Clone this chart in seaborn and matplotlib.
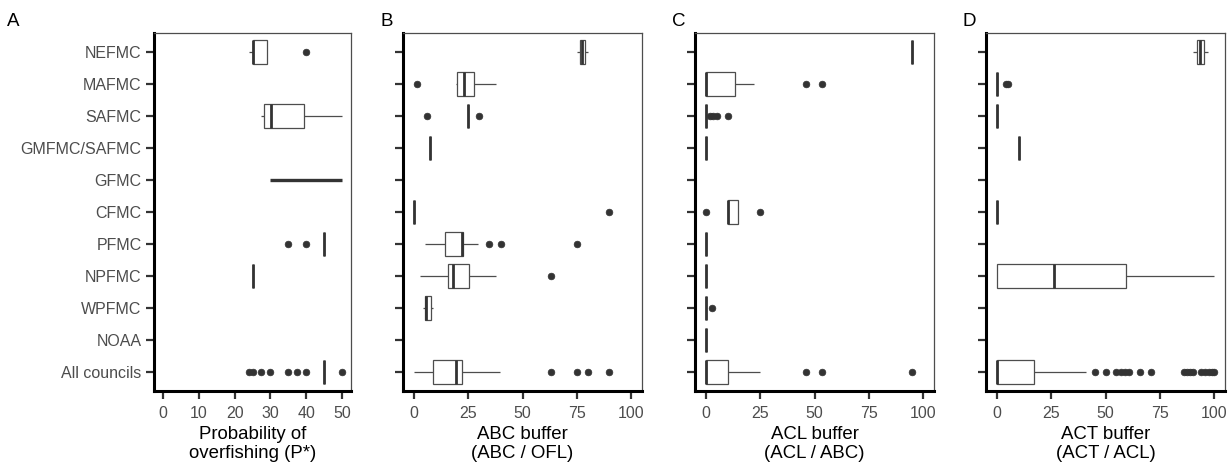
import matplotlib
matplotlib.use("Agg")
import matplotlib.pyplot as plt
import pandas as pd
import seaborn as sns

# Councils, top to bottom
councils = ["NEFMC", "MAFMC", "SAFMC", "GMFMC/SAFMC", "GFMC", "CFMC",
            "PFMC", "NPFMC", "WPFMC", "NOAA", "All councils"]

# Probability of overfishing, P* (%)
pstar = {
    "NEFMC": [24, 25, 25, 29, 40],
    "SAFMC": [27.5, 28.25, 30.25, 39.5, 50],
    "PFMC": [35, 40, 45, 45, 45, 45, 45, 45, 45],
    "NPFMC": [25, 25, 25],
    "All councils": [24, 25, 27.5, 30, 35, 37.5, 40] + [45] * 21 + [50],
}
# GFMC reports P* as a range rather than single values
pstar_gfmc_range = [30, 50]

# ABC buffer (ABC / OFL), %
abc_buffer = {
    "NEFMC": [75.3, 76.3, 77.4, 78.8, 80],
    "MAFMC": [1.4, 19.2, 19.8, 21, 22.9, 25, 27.6, 30, 37.7],
    "SAFMC": [6, 25, 25, 25, 25, 25, 25, 25, 30],
    "GMFMC/SAFMC": [7.3, 7.3],
    "CFMC": [0, 0, 0, 0, 0, 90],
    "PFMC": [5, 8, 11, 13, 14.4, 16, 18, 20, 22.1, 22.2, 22.2, 22.3, 22.4,
             29.3, 34.6, 40, 75],
    "NPFMC": [3, 10, 15.9, 17, 18, 20, 25.2, 37.6, 63],
    "WPFMC": [4, 5, 5.6, 7.9, 8.9],
    "All councils": [0, 2, 4, 6, 8, 9, 12, 15, 17, 18.5, 19.2, 20, 21, 21.5,
                     22, 22.1, 39.7, 63, 75, 80, 90],
}

# ACL buffer (ACL / ABC), %
acl_buffer = {
    "NEFMC": [95, 95, 95],
    "MAFMC": [0, 0, 0, 0, 0, 0, 0, 3, 8, 13.3, 22, 46, 53.6],
    "SAFMC": [0] * 14 + [2, 3.5, 5, 10],
    "GMFMC/SAFMC": [0, 0],
    "CFMC": [0, 10, 10, 10, 10, 15, 15, 15, 25],
    "PFMC": [0, 0, 0],
    "NPFMC": [0, 0, 0],
    "WPFMC": [0, 0, 0, 0, 3],
    "NOAA": [0, 0],
    "All councils": [0] * 9 + [2, 5, 8, 10, 24.8, 46, 53.6, 95],
}

# ACT buffer (ACT / ACL), %
act_buffer = {
    "NEFMC": [90.3, 92, 93.5, 95.5, 97.2],
    "MAFMC": [0, 0, 0, 0, 0, 0, 0, 0, 4, 5],
    "SAFMC": [0, 0, 0],
    "GMFMC/SAFMC": [10, 10],
    "CFMC": [0, 0],
    "NPFMC": [0, 0, 26.4, 59.3, 100],
    "All councils": [0] * 37
                    + [1, 2, 2.5, 3, 4, 5, 5, 6, 7, 8, 9, 10, 11, 12, 13, 15, 16]
                    + [17.2, 41]
                    + [45, 50, 55, 57, 59, 61, 66, 71, 86, 87.5, 89, 90.5,
                       94, 96, 97.5, 99, 100],
}

panel_letters = ["A", "B", "C", "D"]
x_titles = ["Probability of\noverfishing (P*)", "ABC buffer\n(ABC / OFL)",
            "ACL buffer\n(ACL / ABC)", "ACT buffer\n(ACT / ACL)"]
x_ticks = [[0, 10, 20, 30, 40, 50], [0, 25, 50, 75, 100],
           [0, 25, 50, 75, 100], [0, 25, 50, 75, 100]]
x_limits = [(-2.5, 52.5), (-5, 105), (-5, 105), (-5, 105)]


def to_long(values):
    rows = [(c, v) for c, vals in values.items() for v in vals]
    return pd.DataFrame(rows, columns=["council", "value"])


sns.set_theme(style="white")
plt.rcParams["font.family"] = ["Liberation Sans", "DejaVu Sans"]

W, H = 1229, 463
fig = plt.figure(figsize=(W / 100, H / 100), dpi=100)

# axes boxes in pixels: left, right
ax_px = [(154, 351), (403, 642), (695, 934), (986, 1225)]
top_px, bottom_px = 33, 391
letter_px = [(7, 21), (381, 21), (672, 21), (963, 21)]

dark = "#333333"
edge = "#4d4d4d"

datasets = [pstar, abc_buffer, acl_buffer, act_buffer]
for i, data in enumerate(datasets):
    l, r = ax_px[i]
    ax = fig.add_axes([l / W, 1 - bottom_px / H, (r - l) / W, (bottom_px - top_px) / H])
    df = to_long(data)
    sns.boxplot(
        data=df, x="value", y="council", order=councils, orient="h",
        width=0.75, color="white", saturation=1, linecolor=edge,
        linewidth=0.9, whis=1.5, showcaps=False, ax=ax,
        medianprops=dict(color=dark, linewidth=2.0, solid_capstyle="butt"),
        flierprops=dict(marker="o", markerfacecolor=dark, markeredgecolor=dark,
                        markersize=4.8, markeredgewidth=0.5),
    )
    if data is pstar:
        ax.hlines(councils.index("GFMC"), pstar_gfmc_range[0], pstar_gfmc_range[1],
                  color=dark, linewidth=2.4, zorder=5)

    ax.set_xlim(*x_limits[i])
    ax.set_xticks(x_ticks[i])
    ax.set_ylim(len(councils) - 1 + 0.6, -0.6)
    ax.set_ylabel("")
    ax.set_xlabel(x_titles[i], fontsize=13.4, color="black", labelpad=4,
                  linespacing=1.15)
    ax.tick_params(axis="x", pad=5)
    ax.tick_params(axis="y", pad=3.5)
    ax.tick_params(axis="both", which="major", length=5.5, width=1.6,
                   color=dark, labelcolor=edge, labelsize=11.5,
                   left=True, bottom=True)
    if i > 0:
        ax.set_yticklabels([])
    for side in ["left", "bottom"]:
        ax.spines[side].set_linewidth(2.2)
        ax.spines[side].set_color("black")
    for side in ["top", "right"]:
        ax.spines[side].set_linewidth(0.9)
        ax.spines[side].set_color(edge)
    ax.grid(False)

    lx, ly = letter_px[i]
    fig.text(lx / W, 1 - ly / H, panel_letters[i], fontsize=13.5,
             color="black", ha="left", va="center")

fig.savefig("out.png", dpi=100, facecolor="white")
